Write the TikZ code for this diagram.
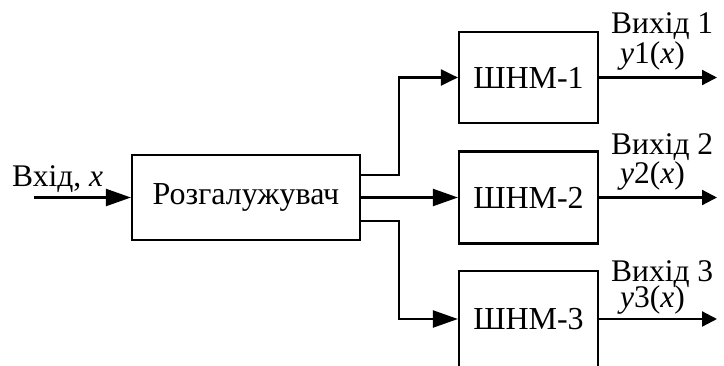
\documentclass[tikz,border=0pt]{standalone}
\usepackage{fontspec}
\setmainfont{Liberation Serif}
\usetikzlibrary{arrows.meta,calc}
\begin{document}
\begin{tikzpicture}[x=1pt,y=-1pt,
  blk/.style={draw,line width=2.2pt,inner sep=0pt,font=\fontsize{32}{38}\selectfont},
  lbl/.style={inner sep=0pt,anchor=base west,font=\fontsize{31.5}{38}\selectfont},
  wire/.style={line width=2.2pt},
  arrL/.style={wire,-{Triangle[length=25pt,width=17pt]}},
  arrS/.style={wire,-{Triangle[length=17pt,width=16pt]}},
  arrO/.style={wire,-{Triangle[length=15pt,width=15pt]}}]
\useasboundingbox (0,0) rectangle (724,365);
\node[blk,minimum width=228pt,minimum height=85pt] (R) at (246,197.5) {Розгалужувач};
\node[blk,minimum width=139pt,minimum height=91pt] (S1) at (528.5,77.5) {ШНМ-1};
\node[blk,minimum width=139pt,minimum height=92pt] (S2) at (528.5,197.5) {ШНМ-2};
\node[blk,minimum width=139pt,minimum height=96pt] (S3) at (528.5,319) {ШНМ-3};
\coordinate (in) at (34,197.5);
\coordinate (e1) at (717,77.5);
\coordinate (e2) at (717,197.5);
\coordinate (e3) at (717,319);
\draw[arrL] (in) -- (R.west);
\draw[arrS] ($(R.east)+(0,-22.5)$) -- ++(38,0) |- (S1.west);
\draw[arrL] (R.east) -- (S2.west);
\draw[arrL] ($(R.east)+(0,23.5)$) -- ++(38,0) |- (S3.west);
\draw[arrO] (S1.east) -- (e1);
\draw[arrO] (S2.east) -- (e2);
\draw[arrO] (S3.east) -- (e3);
\node[lbl] (tin) at (12,186) {Вхід, \textit{x}};
\node[lbl] (t1a) at (611,33) {Вихід 1};
\node[lbl] (t1b) at (620,63) {\textit{y}1(\textit{x})};
\node[lbl] (t2a) at (611,154) {Вихід 2};
\node[lbl] (t2b) at (620,183) {\textit{y}2(\textit{x})};
\node[lbl] (t3a) at (611,281) {Вихід 3};
\node[lbl] (t3b) at (620,307) {\textit{y}3(\textit{x})};
\end{tikzpicture}
\end{document}
